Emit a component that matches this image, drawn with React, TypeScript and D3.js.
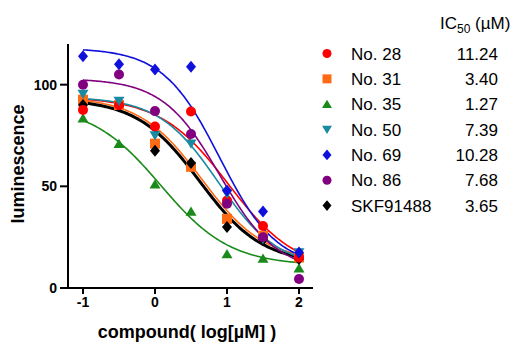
import React from "react";
import * as d3 from "d3";

const doses = [-1, -0.5, 0, 0.5, 1, 1.5, 2];
const names = ["No. 28", "No. 31", "No. 35", "No. 50", "No. 69", "No. 86", "SKF91488"];
const ic50Labels = ["11.24", "3.40", "1.27", "7.39", "10.28", "7.68", "3.65"];
const colors = ["#ff0000", "#ff6a14", "#1a8a1a", "#1a8aa0", "#1010dc", "#800080", "#000000"];
const shapes = ["circle", "square", "triangle", "triangleDown", "diamond", "circle", "diamond"];

const no28 = [87.6, 90, 79.4, 86.8, 43, 30.5, 15];
const no31 = [92.6, 90, 71, 59.6, 34, 25.7, 15];
const no35 = [83.5, 71, 51, 37.6, 16.7, 14.5, 9.7];
const no50 = [95.4, 92, 75, 71, 46.4, 24, 17.5];
const no69 = [114, 110, 107.4, 108.8, 48, 37.6, 17.5];
const no86 = [100, 105, 87, 75.7, 41.4, 25, 4.4];
const skf = [90, 89.6, 67.5, 61.5, 30, 23.7, 14.3];
const seriesValues = [no28, no31, no35, no50, no69, no86, skf];

// fitted 4PL parameters: top, bottom, logEC50, hill
const fitTop = [94, 94, 90, 94, 118, 103, 93];
const fitBottom = [8, 13, 11, 10, 10, 8, 12];
const fitMid = [1.02, 0.65, 0.08, 0.88, 0.9, 0.9, 0.62];
const fitHill = [0.92, 1.0, 0.9, 1.05, 1.1, 1.1, 1.0];

const xTicks = [-1, 0, 1, 2];
const yTicks = [0, 50, 100];

const FONT = "'Liberation Sans', Arial, sans-serif";

function markerPath(shape: string, s: number): string {
  const h = s / 2;
  switch (shape) {
    case "circle":
      return d3.symbol(d3.symbolCircle, Math.PI * h * h)() as string;
    case "square":
      return d3.symbol(d3.symbolSquare, s * s)() as string;
    case "triangle":
      return `M0,${-h * 1.0}L${h * 1.1},${h * 0.85}L${-h * 1.1},${h * 0.85}Z`;
    case "triangleDown":
      return `M0,${h * 1.0}L${h * 1.1},${-h * 0.85}L${-h * 1.1},${-h * 0.85}Z`;
    case "diamond":
      return `M0,${-h * 1.2}L${h},0L0,${h * 1.2}L${-h},0Z`;
  }
  return "";
}

export default function App() {
  const W = 515, H = 343;
  const x = d3.scaleLinear().domain([-1, 2]).range([83, 299]);
  const y = d3.scaleLinear().domain([0, 120]).range([288, 44]);

  const curveXs = d3.range(-1, 2.0001, 0.02);
  const line = d3
    .line<number[]>()
    .x((d) => x(d[0]))
    .y((d) => y(d[1]))
    .curve(d3.curveMonotoneX);

  const curve = (i: number) =>
    curveXs.map((cx) => [
      cx,
      fitBottom[i] + (fitTop[i] - fitBottom[i]) / (1 + Math.pow(10, fitHill[i] * (cx - fitMid[i]))),
    ]);

  const curveOrder = [2, 1, 6, 0, 3, 5, 4];

  return (
    <svg
      width={W}
      height={H}
      style={{ position: "absolute", left: 0, top: 0, background: "#fff" }}
      fontFamily={FONT}
    >
      {/* curves */}
      {curveOrder.map((i) => (
        <path
          key={"c" + i}
          d={line(curve(i)) as string}
          fill="none"
          stroke={colors[i]}
          strokeWidth={i === 6 ? 3 : 1.6}
        />
      ))}
      {/* points */}
      {curveOrder.map((i) =>
        seriesValues[i].map((v, j) => (
          <path
            key={"p" + i + "-" + j}
            d={markerPath(shapes[i], 10)}
            transform={`translate(${x(doses[j])},${y(v)})`}
            fill={colors[i]}
          />
        ))
      )}
      {/* axes */}
      <line x1={68} x2={68} y1={44} y2={289} stroke="#000" strokeWidth={2} />
      <line x1={67} x2={313} y1={288} y2={288} stroke="#000" strokeWidth={2} />
      {yTicks.map((t) => (
        <g key={"yt" + t}>
          <line x1={60} x2={68} y1={y(t)} y2={y(t)} stroke="#000" strokeWidth={2} />
          <text
            x={57}
            y={y(t)}
            dy="0.36em"
            textAnchor="end"
            fontSize={14}
            fontWeight="bold"
          >
            {t}
          </text>
        </g>
      ))}
      {xTicks.map((t) => (
        <g key={"xt" + t}>
          <line x1={x(t)} x2={x(t)} y1={288} y2={294} stroke="#000" strokeWidth={2} />
          <text x={x(t)} y={307} textAnchor="middle" fontSize={14} fontWeight="bold">
            {t}
          </text>
        </g>
      ))}
      <text x={187} y={338} textAnchor="middle" fontSize={18} fontWeight="bold">
        compound( log[µM] )
      </text>
      <text
        transform="translate(24,164) rotate(-90)"
        textAnchor="middle"
        fontSize={18}
        fontWeight="bold"
      >
        luminescence
      </text>
      {/* legend */}
      <text x={440} y={28.5} fontSize={17}>
        IC<tspan fontSize={12} dy={4}>50</tspan>
        <tspan dy={-4}> (µM)</tspan>
      </text>
      {names.map((n, i) => {
        const cy = 53.5 + i * 25.35;
        return (
          <g key={"lg" + i}>
            <path
              d={markerPath(shapes[i], 9)}
              transform={`translate(327,${cy})`}
              fill={colors[i]}
            />
            <text x={351} y={cy + 6} fontSize={17}>
              {n}
            </text>
            <text x={498} y={cy + 6} fontSize={17} textAnchor="end">
              {ic50Labels[i]}
            </text>
          </g>
        );
      })}
    </svg>
  );
}
